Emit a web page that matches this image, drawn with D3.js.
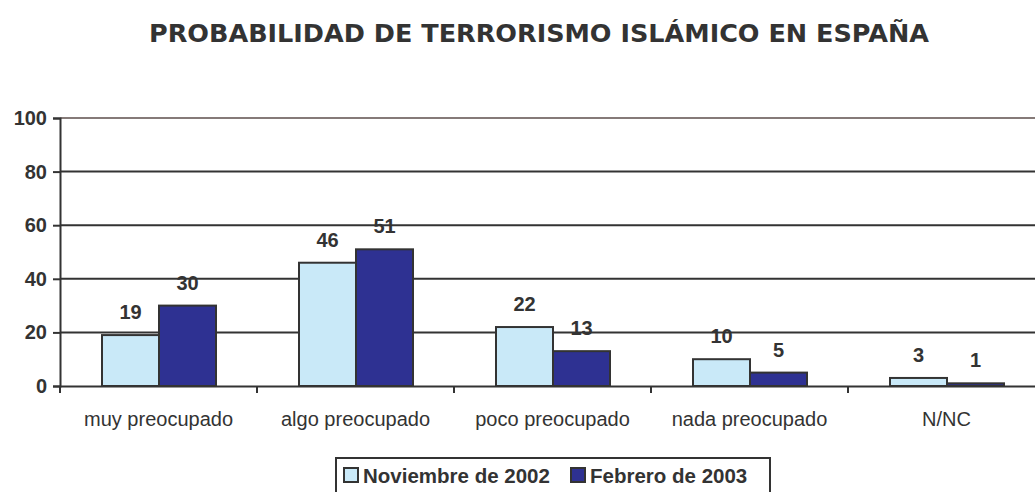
<!DOCTYPE html>
<html>
<head>
<meta charset="utf-8">
<script src="https://cdn.jsdelivr.net/npm/d3@7"></script>
<style>
  body { margin: 0; background: #fff; }
  svg { display: block; }
</style>
</head>
<body>
<div id="chart"></div>
<script>
// chart data
const title = "PROBABILIDAD DE TERRORISMO ISLÁMICO EN ESPAÑA";
const categories = ["muy preocupado", "algo preocupado", "poco preocupado", "nada preocupado", "N/NC"];
const seriesNames = ["Noviembre de 2002", "Febrero de 2003"];
const nov2002 = [19, 46, 22, 10, 3];
const feb2003 = [30, 51, 13, 5, 1];
const yTicks = [0, 20, 40, 60, 80, 100];

const colors = ["#c9e9f8", "#2e3192"];
const width = 1035, height = 492;
const font = "Liberation Sans, Arial, sans-serif";

const svg = d3.select("#chart").append("svg")
  .attr("width", width)
  .attr("height", height);

// title
svg.append("text")
  .attr("x", 539)
  .attr("y", 42)
  .attr("text-anchor", "middle")
  .style("font-family", "DejaVu Sans, Verdana, sans-serif")
  .style("font-weight", "bold")
  .style("font-size", "25.5px")
  .style("fill", "#333")
  .text(title);

// scales
const x0 = d3.scaleBand().domain(categories).range([60, 1045]).padding(0);
const x1 = d3.scaleBand().domain(seriesNames).range([42, 156]).padding(0);
const y = d3.scaleLinear().domain([0, 100]).range([386, 118]);

// gridlines
svg.append("g").selectAll("line")
  .data(yTicks.filter(d => d > 0))
  .enter().append("line")
  .attr("x1", 60).attr("x2", 1045)
  .attr("y1", d => y(d)).attr("y2", d => y(d))
  .attr("stroke", d => d === 100 ? "#857a78" : "#333")
  .attr("stroke-width", 2);

// y axis
const yAxis = svg.append("g")
  .attr("transform", "translate(60,0)")
  .call(d3.axisLeft(y).tickValues(yTicks).tickSize(7).tickPadding(6));
yAxis.select(".domain").attr("stroke", "#333").attr("stroke-width", 2);
yAxis.selectAll(".tick line").attr("stroke", "#333").attr("stroke-width", 2);
yAxis.selectAll(".tick text")
  .style("font-family", font)
  .style("font-weight", "bold")
  .style("font-size", "20px")
  .style("fill", "#333");

// x axis
const xAxis = svg.append("g")
  .attr("transform", "translate(0," + y(0) + ")")
  .call(d3.axisBottom(x0).tickSize(0).tickPadding(26));
xAxis.select(".domain").attr("stroke", "#333").attr("stroke-width", 2);
xAxis.selectAll(".tick text")
  .style("font-family", font)
  .style("font-size", "20px")
  .style("fill", "#333");
// category boundary ticks
xAxis.append("g").selectAll("line")
  .data(categories)
  .enter().append("line")
  .attr("x1", d => x0(d)).attr("x2", d => x0(d))
  .attr("y1", 0).attr("y2", 7)
  .attr("stroke", "#333").attr("stroke-width", 2);

// bars
const rows = categories.map((c, i) => ({ cat: c, vals: [nov2002[i], feb2003[i]] }));
const groups = svg.append("g").selectAll("g")
  .data(rows)
  .enter().append("g")
  .attr("transform", d => "translate(" + x0(d.cat) + ",0)");

groups.selectAll("rect")
  .data(d => d.vals.map((v, j) => ({ name: seriesNames[j], v: v, j: j })))
  .enter().append("rect")
  .attr("x", d => x1(d.name))
  .attr("width", x1.bandwidth())
  .attr("y", d => y(d.v))
  .attr("height", d => y(0) - y(d.v))
  .attr("fill", d => colors[d.j])
  .attr("stroke", "#333")
  .attr("stroke-width", 2);

groups.selectAll("text")
  .data(d => d.vals.map((v, j) => ({ name: seriesNames[j], v: v })))
  .enter().append("text")
  .attr("x", d => x1(d.name) + x1.bandwidth() / 2)
  .attr("y", d => y(d.v) - 16)
  .attr("text-anchor", "middle")
  .style("font-family", font)
  .style("font-weight", "bold")
  .style("font-size", "20px")
  .style("fill", "#333")
  .text(d => d.v);

// legend
const legend = svg.append("g").attr("transform", "translate(336,458)");
legend.append("rect")
  .attr("width", 434).attr("height", 50)
  .attr("fill", "#fff")
  .attr("stroke", "#333").attr("stroke-width", 2);
const legX = [8, 235];
seriesNames.forEach((s, i) => {
  legend.append("rect")
    .attr("x", legX[i]).attr("y", 10)
    .attr("width", 14).attr("height", 14)
    .attr("fill", colors[i])
    .attr("stroke", "#333").attr("stroke-width", 2);
  legend.append("text")
    .attr("x", legX[i] + 19).attr("y", 25)
    .style("font-family", font)
    .style("font-weight", "bold")
    .style("font-size", "20.5px")
    .style("fill", "#333")
    .text(s);
});
</script>
</body>
</html>
